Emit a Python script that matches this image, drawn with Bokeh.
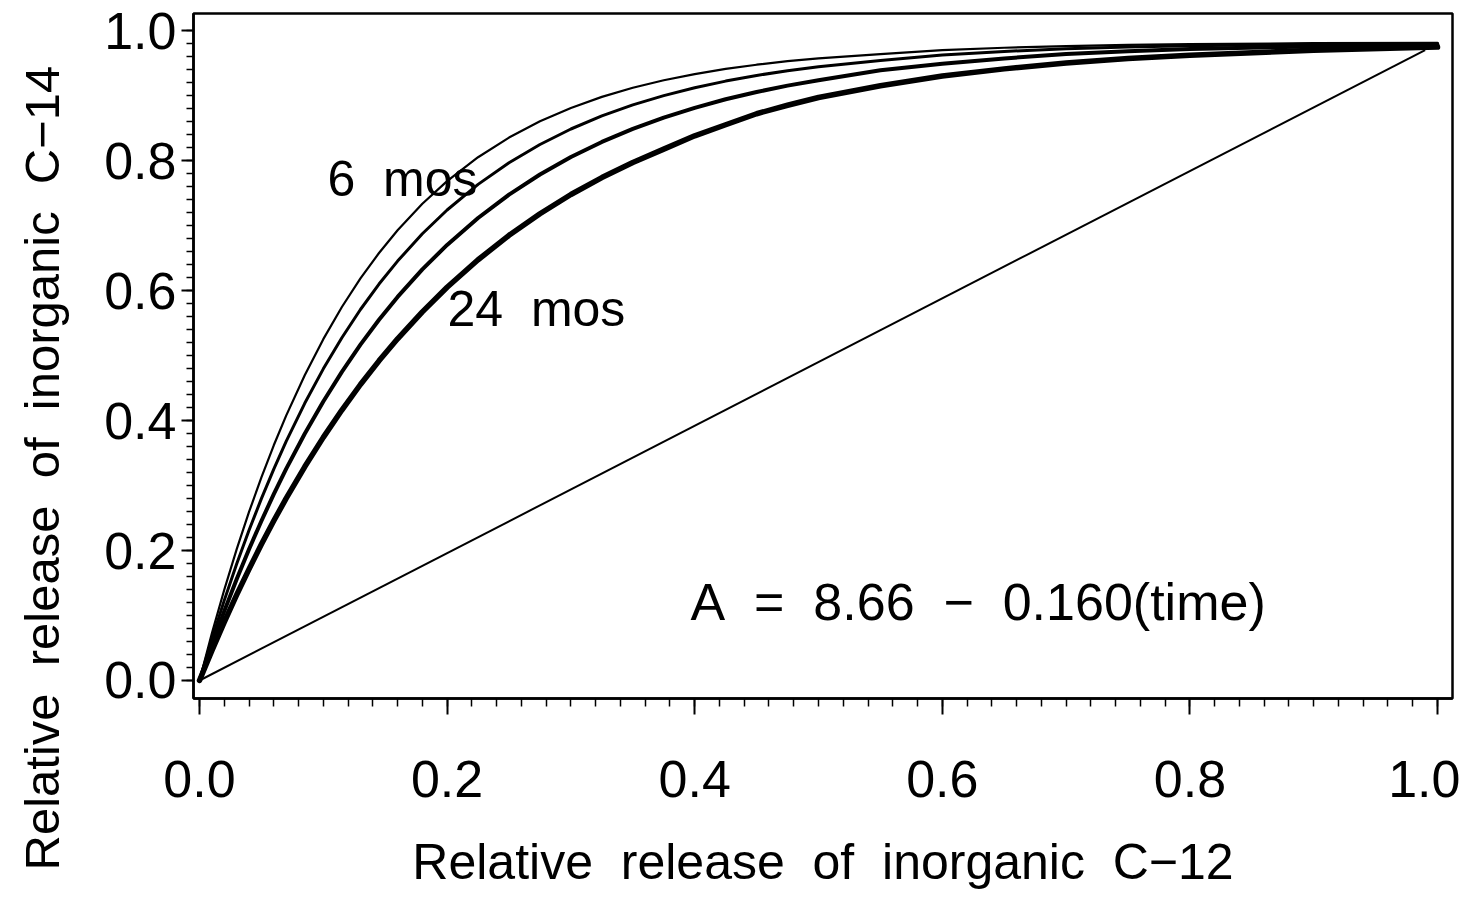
from bokeh.plotting import figure
from bokeh.models import Range1d, FixedTicker, Label, Title
from bokeh.embed import file_html
from bokeh.resources import INLINE

# ---- data ----
x_grid = [0, 0.01, 0.02, 0.03, 0.04, 0.05, 0.06, 0.07, 0.085, 0.10, 0.115, 0.13, 0.145, 0.16,
          0.18, 0.20, 0.225, 0.25, 0.275, 0.30, 0.325, 0.35, 0.375, 0.40, 0.425, 0.45, 0.475,
          0.50, 0.55, 0.60, 0.65, 0.70, 0.75, 0.80, 0.90, 1.00]
mos6 = [0, 0.0725, 0.1396, 0.2018, 0.2593, 0.3125, 0.3619, 0.4075, 0.4697, 0.5252, 0.5746,
        0.6186, 0.6577, 0.6927, 0.7334, 0.7683, 0.8051, 0.8353, 0.8603, 0.8809, 0.8979, 0.9120,
        0.9235, 0.9330, 0.9409, 0.9474, 0.9528, 0.9571, 0.9638, 0.9700, 0.9735, 0.9760, 0.9778,
        0.9790, 0.9805, 0.9810]
mos12 = [0, 0.0637, 0.1233, 0.1791, 0.2311, 0.2798, 0.3253, 0.3678, 0.4265, 0.4795, 0.5274,
         0.5708, 0.6100, 0.6453, 0.6873, 0.7239, 0.7633, 0.7966, 0.8247, 0.8485, 0.8686, 0.8856,
         0.8999, 0.9120, 0.9222, 0.9309, 0.9382, 0.9444, 0.9540, 0.9625, 0.9678, 0.9720, 0.9745,
         0.9765, 0.9790, 0.9800]
mos18 = [0, 0.0549, 0.1068, 0.1557, 0.2019, 0.2455, 0.2866, 0.3255, 0.3797, 0.4293, 0.4749,
         0.5167, 0.5550, 0.5901, 0.6325, 0.6702, 0.7116, 0.7475, 0.7785, 0.8053, 0.8286, 0.8486,
         0.8660, 0.8811, 0.8942, 0.9054, 0.9152, 0.9236, 0.9390, 0.9490, 0.9570, 0.9640, 0.9680,
         0.9715, 0.9755, 0.9780]
mos24 = [0, 0.0460, 0.0899, 0.1316, 0.1714, 0.2095, 0.2457, 0.2801, 0.3288, 0.3741, 0.4161,
         0.4554, 0.4918, 0.5257, 0.5672, 0.6050, 0.6473, 0.6849, 0.7181, 0.7477, 0.7738, 0.7970,
         0.8175, 0.8380, 0.8550, 0.8720, 0.8850, 0.8970, 0.9150, 0.9300, 0.9410, 0.9500, 0.9570,
         0.9620, 0.9695, 0.9745]
diag_x = [0, 0.99]
diag_y = [0, 0.97]

x_ticks = [0.0, 0.2, 0.4, 0.6, 0.8, 1.0]
x_tick_labels = ["0.0", "0.2", "0.4", "0.6", "0.8", "1.0"]
y_ticks = [0.0, 0.2, 0.4, 0.6, 0.8, 1.0]
y_tick_labels = ["0.0", "0.2", "0.4", "0.6", "0.8", "1.0"]
minor_ticks = [round(i * 0.02, 2) for i in range(51)]

NB = "\u00a0\u00a0"
x_title = NB.join(["Relative", "release", "of", "inorganic", "C\u221212"])
y_title = NB.join(["Relative", "release", "of", "inorganic", "C\u221214"])
label_6 = "6" + NB + "mos"
label_24 = "24" + NB + "mos"
formula = NB.join(["A", "=", "8.66", "\u2212", "0.160(time)"])

FONT = "Liberation Sans"

p = figure(frame_width=1259, frame_height=685,
           x_range=Range1d(-0.00485, 1.0121), y_range=Range1d(-0.0277, 1.0262),
           output_backend="svg", toolbar_location=None,
           min_border_left=193, min_border_right=8, min_border_top=13, min_border_bottom=200)
p.background_fill_color = "white"
p.border_fill_color = "white"
p.outline_line_color = "black"
p.outline_line_width = 2.5
p.xgrid.visible = False
p.ygrid.visible = False

# curves
p.line(diag_x, diag_y, line_color="black", line_width=2)
p.line(x_grid, mos6, line_color="black", line_width=2.2, line_join="round", line_cap="round")
p.line(x_grid, mos12, line_color="black", line_width=3.0, line_join="round", line_cap="round")
p.line(x_grid, mos18, line_color="black", line_width=4.0, line_join="round", line_cap="round")
p.line(x_grid, mos24, line_color="black", line_width=5.5, line_join="round", line_cap="round")

# axes
for ax, ticks, labels in ((p.xaxis[0], x_ticks, x_tick_labels), (p.yaxis[0], y_ticks, y_tick_labels)):
    ax.ticker = FixedTicker(ticks=ticks, minor_ticks=minor_ticks)
    ax.major_label_overrides = {t: l for t, l in zip(ticks, labels)}
    ax.axis_line_color = "black"
    ax.axis_line_width = 2.5
    ax.major_tick_line_color = "black"
    ax.minor_tick_line_color = "black"
    ax.major_tick_line_width = 2
    ax.minor_tick_line_width = 1.5
    ax.major_tick_in = 0
    ax.minor_tick_in = 0
    ax.major_label_text_font = FONT
    ax.major_label_text_font_size = "52px"
    ax.major_label_text_color = "black"

p.xaxis.major_tick_out = 16
p.xaxis.minor_tick_out = 8
p.xaxis.major_label_standoff = 46
p.yaxis.major_tick_out = 12
p.yaxis.minor_tick_out = 7
p.yaxis.major_label_standoff = 5

p.xaxis.axis_label = x_title
p.xaxis.axis_label_text_font = FONT
p.xaxis.axis_label_text_font_size = "50px"
p.xaxis.axis_label_text_font_style = "normal"
p.xaxis.axis_label_text_color = "black"
p.xaxis.axis_label_standoff = 34

# invisible spacer label on the y axis, so the real y title sits further left
p.yaxis.axis_label = "\u00a0"
p.yaxis.axis_label_text_font_size = "12px"
p.yaxis.axis_label_standoff = 6

ytitle = Title(text=y_title, align="left", offset=-172, standoff=20,
               text_font=FONT, text_font_size="49px", text_font_style="normal",
               text_color="black")
p.add_layout(ytitle, "left")

p.add_layout(Label(x=0.1034, y=0.772, text=label_6, text_align="left", text_baseline="alphabetic",
                   text_font=FONT, text_font_size="50px", text_color="black"))
p.add_layout(Label(x=0.2003, y=0.572, text=label_24, text_align="left", text_baseline="alphabetic",
                   text_font=FONT, text_font_size="50px", text_color="black"))
p.add_layout(Label(x=0.3966, y=0.120, text=formula, text_align="left", text_baseline="alphabetic",
                   text_font=FONT, text_font_size="52px", text_color="black"))

open("out.html", "w").write(file_html(p, INLINE))
